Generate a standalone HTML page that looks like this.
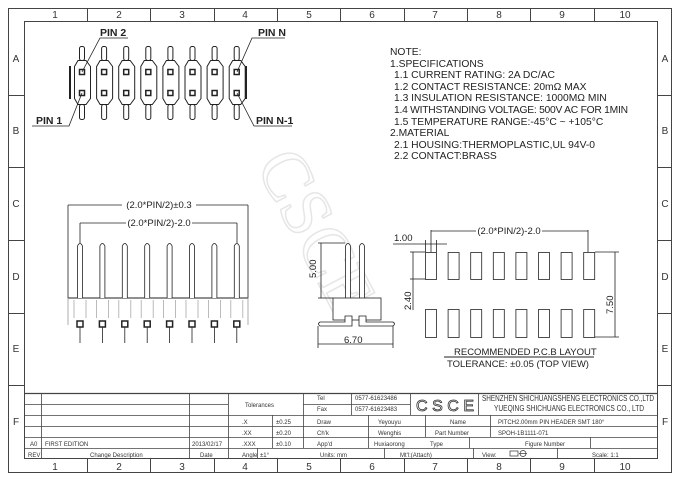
<!DOCTYPE html>
<html><head><meta charset="utf-8"><style>
body{margin:0;background:#fff}
svg{display:block}
text{font-family:"Liberation Sans",sans-serif}
.m{font-family:"Liberation Serif",serif;font-size:6px;fill:#333}
</style></head><body>
<svg width="680" height="481" viewBox="0 0 680 481" xmlns="http://www.w3.org/2000/svg">
<rect x="0" y="0" width="680" height="481" fill="#fff"/>
<!-- watermark -->
<text x="0" y="0" transform="translate(255,165) rotate(62)" style="font-family:'Liberation Serif',serif;font-size:70px;fill:none;stroke:#e6e6e6;stroke-width:1.5">CSCE</text>
<g stroke="#444" fill="none" stroke-width="1">
<rect x="8.5" y="8.5" width="663" height="464"/>
<rect x="24.5" y="21.5" width="633" height="437"/>
</g>
<g stroke="#444" stroke-width="1">
<line x1="87.5" y1="8" x2="87.5" y2="21"/><line x1="150.5" y1="8" x2="150.5" y2="21"/><line x1="214.5" y1="8" x2="214.5" y2="21"/><line x1="277.5" y1="8" x2="277.5" y2="21"/><line x1="340.5" y1="8" x2="340.5" y2="21"/><line x1="404.5" y1="8" x2="404.5" y2="21"/><line x1="467.5" y1="8" x2="467.5" y2="21"/><line x1="530.5" y1="8" x2="530.5" y2="21"/><line x1="594.5" y1="8" x2="594.5" y2="21"/>
<line x1="87.5" y1="459" x2="87.5" y2="472"/><line x1="150.5" y1="459" x2="150.5" y2="472"/><line x1="214.5" y1="459" x2="214.5" y2="472"/><line x1="277.5" y1="459" x2="277.5" y2="472"/><line x1="340.5" y1="459" x2="340.5" y2="472"/><line x1="404.5" y1="459" x2="404.5" y2="472"/><line x1="467.5" y1="459" x2="467.5" y2="472"/><line x1="530.5" y1="459" x2="530.5" y2="472"/><line x1="594.5" y1="459" x2="594.5" y2="472"/>
<line x1="8" y1="95.5" x2="24" y2="95.5"/><line x1="8" y1="167.5" x2="24" y2="167.5"/><line x1="8" y1="240.5" x2="24" y2="240.5"/><line x1="8" y1="313.5" x2="24" y2="313.5"/><line x1="8" y1="385.5" x2="24" y2="385.5"/>
<line x1="658" y1="95.5" x2="672" y2="95.5"/><line x1="658" y1="167.5" x2="672" y2="167.5"/><line x1="658" y1="240.5" x2="672" y2="240.5"/><line x1="658" y1="313.5" x2="672" y2="313.5"/><line x1="658" y1="385.5" x2="672" y2="385.5"/>
</g>
<g style="font-family:'Liberation Serif',serif;font-size:10px;fill:#333" text-anchor="middle">
<text x="55" y="18">1</text><text x="119" y="18">2</text><text x="182" y="18">3</text><text x="245" y="18">4</text><text x="309" y="18">5</text><text x="372" y="18">6</text><text x="435" y="18">7</text><text x="499" y="18">8</text><text x="562" y="18">9</text><text x="625" y="18">10</text>
<text x="55" y="470">1</text><text x="119" y="470">2</text><text x="182" y="470">3</text><text x="245" y="470">4</text><text x="309" y="470">5</text><text x="372" y="470">6</text><text x="435" y="470">7</text><text x="499" y="470">8</text><text x="562" y="470">9</text><text x="625" y="470">10</text>
<text x="16" y="62">A</text><text x="16" y="134">B</text><text x="16" y="207">C</text><text x="16" y="280">D</text><text x="16" y="352">E</text><text x="16" y="425">F</text>
<text x="665" y="62">A</text><text x="665" y="134">B</text><text x="665" y="207">C</text><text x="665" y="280">D</text><text x="665" y="352">E</text><text x="665" y="425">F</text>
</g>

<!-- top view -->
<g stroke="#222" fill="#fff" stroke-width="1">
<g id="pp">
<rect x="79.5" y="46.5" width="5" height="14" rx="2"/>
<rect x="79.5" y="104.5" width="5" height="15" rx="2"/>
<path d="M74.5 66.5 L78 60.5 L86 60.5 L90.5 66.5 L90.5 98.5 L86 104.5 L78 104.5 L74.5 98.5 Z"/>
<rect x="79.5" y="69.5" width="5" height="5" fill="#fff" stroke-width="1.5"/>
<rect x="79.5" y="90.5" width="5" height="5" fill="#fff" stroke-width="1.5"/>
</g>
<use href="#pp" x="22.1"/><use href="#pp" x="44.2"/><use href="#pp" x="66.3"/><use href="#pp" x="88.4"/><use href="#pp" x="110.5"/><use href="#pp" x="132.6"/><use href="#pp" x="154.7"/>
<line x1="70" y1="66" x2="70" y2="99" stroke-width="2"/>
<line x1="246" y1="66" x2="246" y2="99" stroke-width="2"/>
</g>
<g stroke="#222" stroke-width="0.8" fill="none">
<polyline points="82,72 100,38 128,38"/>
<polyline points="82,93 69,126 32,126"/>
<polyline points="237,72 252,38 285,38"/>
<polyline points="237,93 254,126 292,126"/>
</g>
<g style="font-size:10.5px;font-weight:bold;fill:#222">
<text x="100" y="36">PIN 2</text><text x="36" y="124">PIN 1</text><text x="258" y="36">PIN N</text><text x="256" y="124">PIN N-1</text>
</g>

<!-- notes -->
<g style="font-size:10.3px;fill:#222">
<text x="390" y="55">NOTE:</text>
<text x="390" y="67">1.SPECIFICATIONS</text>
<text x="394" y="78">1.1 CURRENT RATING: 2A DC/AC</text>
<text x="394" y="90">1.2 CONTACT RESISTANCE: 20mΩ MAX</text>
<text x="394" y="101">1.3 INSULATION RESISTANCE: 1000MΩ MIN</text>
<text x="394" y="113" textLength="234">1.4 WITHSTANDING VOLTAGE: 500V AC FOR 1MIN</text>
<text x="394" y="125">1.5 TEMPERATURE RANGE:-45°C ~ +105°C</text>
<text x="390" y="136">2.MATERIAL</text>
<text x="394" y="148">2.1 HOUSING:THERMOPLASTIC,UL 94V-0</text>
<text x="394" y="159">2.2 CONTACT:BRASS</text>
</g>

<!-- front view -->
<g stroke="#222" stroke-width="0.8" fill="none">
<line x1="68" y1="205" x2="68" y2="298"/><line x1="248" y1="205" x2="248" y2="298"/>
<line x1="68" y1="205" x2="248" y2="205"/>
<line x1="80" y1="223" x2="80" y2="243"/><line x1="237" y1="223" x2="237" y2="243"/>
<line x1="80" y1="223" x2="237" y2="223"/>
<line x1="68" y1="298" x2="248" y2="298" stroke-width="1"/>
<path d="M68 298 V325 M248 298 V325" stroke="#999"/>
</g>
<g style="font-size:9.5px;fill:#222" text-anchor="middle"><rect x="122" y="199" width="74" height="11" fill="#fff"/><text x="159" y="208">(2.0*PIN/2)±0.3</text>
<rect x="126" y="217" width="66" height="11" fill="#fff"/><text x="159" y="226">(2.0*PIN/2)-2.0</text></g>
<g stroke="#222" stroke-width="0.8" fill="#fff">
<g id="fp"><path d="M77.5 298 V246 Q80 241 82.5 246 V298"/><path d="M74 300 V318 M86 300 V318" stroke="#aaa"/><rect x="77" y="321" width="6" height="6" stroke-width="1.5"/><line x1="80" y1="327" x2="80" y2="343"/></g>
<use href="#fp" x="22.4"/><use href="#fp" x="44.8"/><use href="#fp" x="67.2"/><use href="#fp" x="89.6"/><use href="#fp" x="112"/><use href="#fp" x="134.4"/><use href="#fp" x="156.8"/>
</g>

<!-- side view -->
<g stroke="#222" stroke-width="0.8" fill="#fff">
<path d="M345.5 298 V246 Q348 241 350.5 246 V298"/>
<path d="M359.5 298 V246 Q362 241 364.5 246 V298"/>
<rect x="333" y="298" width="48" height="22"/>
<path d="M320 322 H345 V316 H352 V326 H320 Q317 324 320 322 Z"/>
<path d="M393 322 H366 V316 H359 V326 H393 Q396 324 393 322 Z"/>
<line x1="318" y1="243" x2="345" y2="243"/><line x1="318" y1="298" x2="333" y2="298"/>
<line x1="321" y1="243" x2="321" y2="298"/>
<line x1="318" y1="326" x2="318" y2="348"/><line x1="393" y1="326" x2="393" y2="348"/>
<line x1="318" y1="344" x2="393" y2="344"/>
</g>
<g style="font-size:9.5px;fill:#222"><text x="0" y="0" transform="translate(316,278) rotate(-90)">5.00</text><text x="344" y="343">6.70</text></g>

<!-- PCB layout -->
<g stroke="#222" stroke-width="0.8" fill="#fff">
<g id="pd"><rect x="425.5" y="252.5" width="11" height="27"/><rect x="425.5" y="309.5" width="11" height="28"/></g>
<use href="#pd" x="22.6"/><use href="#pd" x="45.2"/><use href="#pd" x="67.8"/><use href="#pd" x="90.4"/><use href="#pd" x="113"/><use href="#pd" x="135.6"/><use href="#pd" x="158.2"/>
<line x1="431" y1="230" x2="431" y2="252"/><line x1="588" y1="230" x2="588" y2="252"/>
<line x1="431" y1="231" x2="588" y2="231"/>
<line x1="393" y1="244" x2="447" y2="244"/>
<line x1="425.5" y1="240" x2="425.5" y2="252"/><line x1="436.5" y1="240" x2="436.5" y2="252"/>
<line x1="410" y1="252" x2="425" y2="252"/><line x1="410" y1="279" x2="425" y2="279"/>
<line x1="413" y1="252" x2="413" y2="310"/>
<line x1="595" y1="252" x2="619" y2="252"/><line x1="595" y1="337" x2="619" y2="337"/>
<line x1="615" y1="252" x2="615" y2="337"/>
<line x1="444" y1="357" x2="594" y2="357" stroke-width="1"/>
</g>
<g style="font-size:9.5px;fill:#222"><rect x="476" y="225" width="66" height="11" fill="#fff"/><text x="509" y="234" text-anchor="middle">(2.0*PIN/2)-2.0</text>
<text x="394" y="241">1.00</text>
<text x="0" y="0" transform="translate(411,310) rotate(-90)">2.40</text>
<text x="0" y="0" transform="translate(613,314) rotate(-90)">7.50</text>
<text x="454" y="355">RECOMMENDED P.C.B LAYOUT</text>
<text x="447" y="367">TOLERANCE: ±0.05 (TOP VIEW)</text></g>

<!-- title block -->
<g stroke="#444" stroke-width="0.8" fill="none">
<line x1="24" y1="393.5" x2="658" y2="393.5" stroke-width="1.2"/>
<line x1="24" y1="415.5" x2="658" y2="415.5"/>
<line x1="24" y1="426.5" x2="658" y2="426.5"/>
<line x1="24" y1="437.5" x2="658" y2="437.5"/>
<line x1="24" y1="448.5" x2="658" y2="448.5"/>
<line x1="24" y1="404.5" x2="228" y2="404.5"/>
<line x1="303" y1="404.5" x2="410" y2="404.5"/>
<line x1="41.5" y1="393" x2="41.5" y2="459"/>
<line x1="189.5" y1="393" x2="189.5" y2="459"/>
<line x1="228.5" y1="393" x2="228.5" y2="459"/>
<line x1="272.5" y1="415" x2="272.5" y2="448"/>
<line x1="303.5" y1="393" x2="303.5" y2="448"/>
<line x1="351.5" y1="393" x2="351.5" y2="415"/>
<line x1="410.5" y1="393" x2="410.5" y2="415"/>
<line x1="478.5" y1="393" x2="478.5" y2="415"/>
<line x1="368.5" y1="415" x2="368.5" y2="448"/>
<line x1="425.5" y1="415" x2="425.5" y2="437"/>
<line x1="490.5" y1="415" x2="490.5" y2="437"/>
<line x1="469.5" y1="437" x2="469.5" y2="448"/>
<line x1="590.5" y1="437" x2="590.5" y2="448"/>
<line x1="257.5" y1="448" x2="257.5" y2="459"/>
<line x1="384.5" y1="448" x2="384.5" y2="459"/>
<line x1="473.5" y1="448" x2="473.5" y2="459"/>
<line x1="557.5" y1="448" x2="557.5" y2="459"/>
</g>
<g class="m">
<text x="245" y="407">Tolerances</text>
<text x="317" y="400">Tel</text><text x="317" y="411">Fax</text>
<text x="355" y="400">0577-61623486</text><text x="355" y="411">0577-61623483</text>
<text x="482" y="401" style="font-size:8px" textLength="172" lengthAdjust="spacingAndGlyphs">SHENZHEN SHICHUANGSHENG ELECTRONICS CO.,LTD</text>
<text x="494" y="411" style="font-size:8px" textLength="150" lengthAdjust="spacingAndGlyphs">YUEQING SHICHUANG ELECTRONICS CO., LTD</text>
<text x="242" y="424">.X</text><text x="276" y="424">±0.25</text>
<text x="242" y="435">.XX</text><text x="276" y="435">±0.20</text>
<text x="242" y="446">.XXX</text><text x="276" y="446">±0.10</text>
<text x="242" y="457">Angle</text><text x="260" y="457">±1°</text>
<text x="317" y="424">Draw</text><text x="378" y="424">Yeyouyu</text>
<text x="317" y="435">Ch'k</text><text x="378" y="435">Wenghis</text>
<text x="317" y="446">App'd</text><text x="374" y="446">Huxiaorong</text>
<text x="450" y="424">Name</text><text x="498" y="424">PITCH2.00mm PIN HEADER SMT 180°</text>
<text x="435" y="435">Part Number</text><text x="498" y="435">SPOH-1B1111-071</text>
<text x="430" y="446">Type</text><text x="525" y="446">Figure Number</text>
<text x="320" y="457">Units: mm</text><text x="400" y="457">Mt'l:(Attach)</text>
<text x="482" y="457">View:</text><text x="592" y="457">Scale: 1:1</text>
<text x="30" y="446">A0</text><text x="45" y="446">FIRST EDITION</text><text x="192" y="446">2013/02/17</text>
<text x="28" y="457">REV</text><text x="90" y="457">Change Description</text><text x="200" y="457">Date</text>
</g>
<text x="416" y="411" textLength="58" style="font-size:16px;fill:none;stroke:#333;stroke-width:0.8">CSCE</text>
<g stroke="#333" stroke-width="0.7" fill="none"><rect x="510" y="451" width="8" height="5"/><circle cx="523" cy="453.5" r="3"/><line x1="519" y1="453.5" x2="527" y2="453.5"/></g>
</svg>
</body></html>
